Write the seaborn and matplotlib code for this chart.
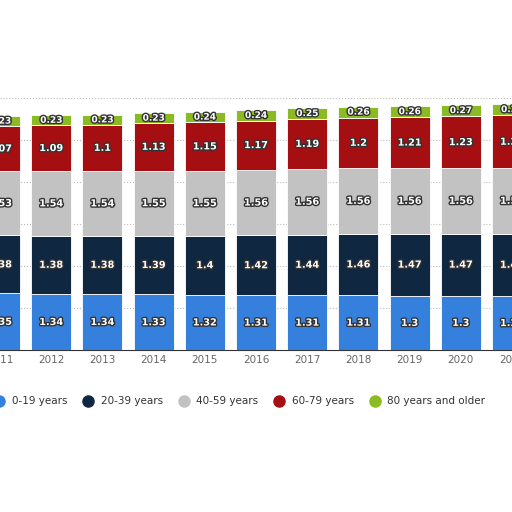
import matplotlib
matplotlib.use("Agg")
import matplotlib.pyplot as plt
import matplotlib.patheffects as pe
from matplotlib.lines import Line2D
import seaborn as sns
import numpy as np

years = ["2011","2012","2013","2014","2015","2016","2017","2018","2019","2020","2021"]
g0_19 = [1.35,1.34,1.34,1.33,1.32,1.31,1.31,1.31,1.3,1.3,1.29]
g20_39 = [1.38,1.38,1.38,1.39,1.4,1.42,1.44,1.46,1.47,1.47,1.48]
g40_59 = [1.53,1.54,1.54,1.55,1.55,1.56,1.56,1.56,1.56,1.56,1.56]
g60_79 = [1.07,1.09,1.1,1.13,1.15,1.17,1.19,1.2,1.21,1.23,1.25]
g80 = [0.23,0.23,0.23,0.23,0.24,0.24,0.25,0.26,0.26,0.27,0.28]
series = ["0-19 years","20-39 years","40-59 years","60-79 years","80 years and older"]
colors = ["#3580dd","#0f2741","#c2c2c2","#a50f12","#8abb22"]

sns.set_style("white")
fig = plt.figure(figsize=(5.12,5.12), dpi=100)
ax = fig.add_axes([0.0, 0.316, 1.0, 0.493])
data = [g0_19, g20_39, g40_59, g60_79, g80]
x = np.arange(len(years))
bottom = np.zeros(len(years))
outline = [pe.withStroke(linewidth=2, foreground="#333333")]
for i,(vals,name,c) in enumerate(zip(data,series,colors)):
    ax.bar(x, vals, bottom=bottom, width=0.78, color=c, label=name, edgecolor="white", linewidth=0.6, zorder=3)
    for xi,v,b in zip(x,vals,bottom):
        ax.text(xi, b+v/2, f"{v:g}", ha="center", va="center", color="white",
                fontsize=7 if i < 4 else 6.5, fontweight="bold", path_effects=outline, zorder=4)
    bottom += np.array(vals)
ax.set_xlim(0.0095, 9.76)
ax.set_ylim(0, 6.0)
ax.set_xticks(x)
ax.set_xticklabels(years, fontsize=7.5, color="#666666")
ax.set_yticks([1,2,3,4,5,6])
ax.set_yticklabels([])
ax.grid(axis="y", linestyle=":", color="#bbbbbb", zorder=0)
ax.tick_params(axis="both", length=0)
for s in ["left","right","top"]:
    ax.spines[s].set_visible(False)
ax.spines["bottom"].set_color("#333333")
hs = [Line2D([],[],marker="o",linestyle="",markersize=8,color=c) for c in colors]
fig.legend(hs, series, loc="center left", bbox_to_anchor=(-0.04, 0.216), ncol=5,
           frameon=False, handletextpad=0.2, columnspacing=1.0,
           prop={"size":7.5}, labelcolor="#333333")
fig.savefig("out.png", dpi=100, facecolor="white")
